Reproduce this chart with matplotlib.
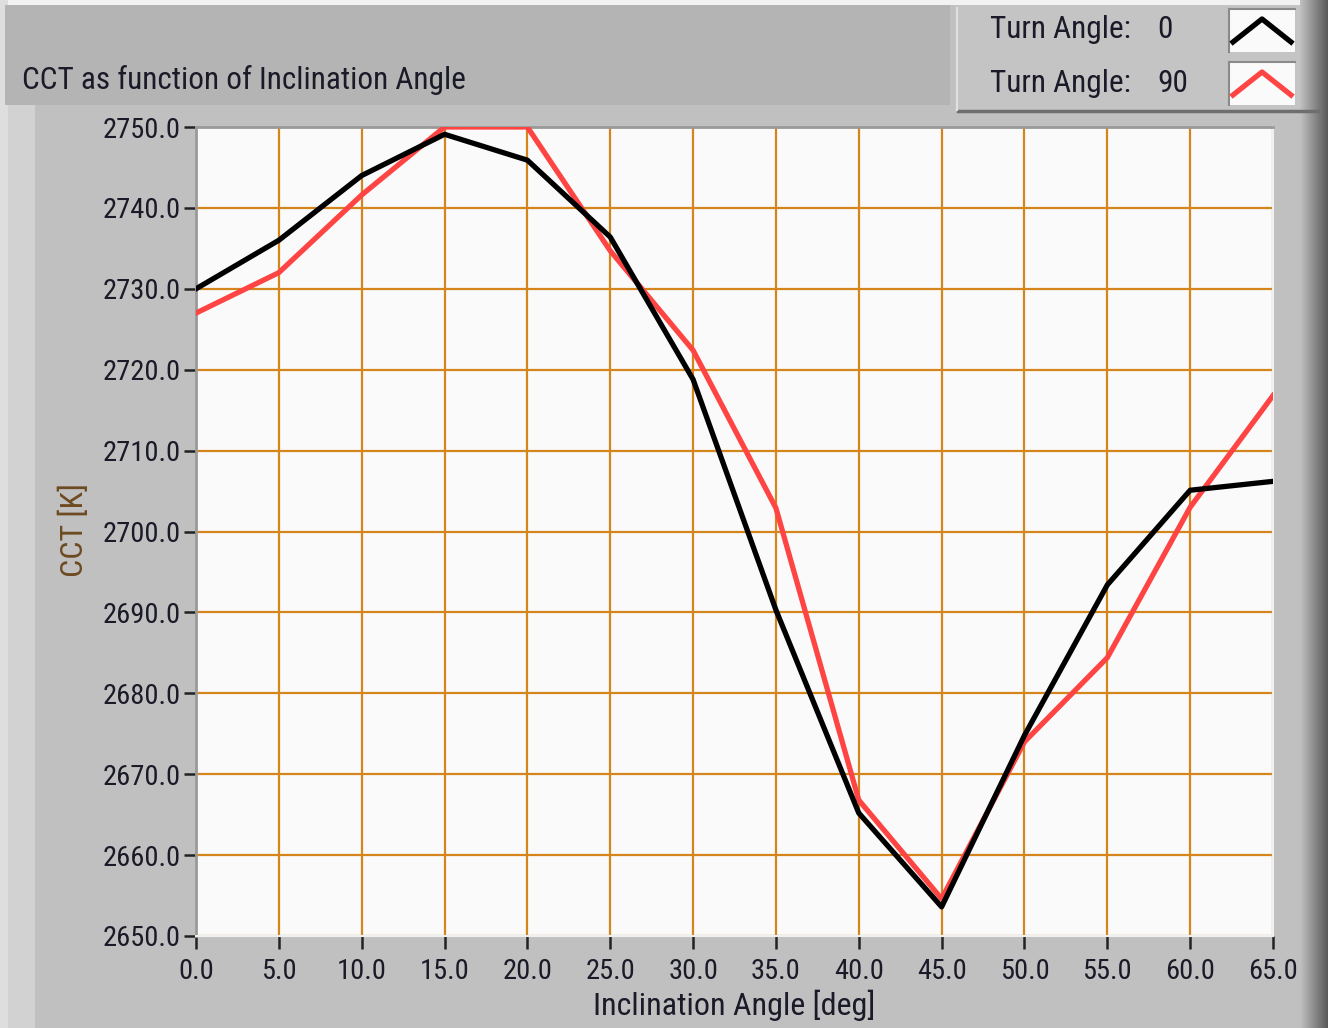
import matplotlib
matplotlib.use("Agg")
import matplotlib.pyplot as plt
from matplotlib.patches import Rectangle
from matplotlib.lines import Line2D
from matplotlib import font_manager
import numpy as np

# ---- data ----
inclination = [0, 5, 10, 15, 20, 25, 30, 35, 40, 45, 50, 55, 60, 65]
cct_turn0 = [2730.0, 2736.0, 2744.0, 2749.1, 2745.9, 2736.4, 2718.8, 2690.3,
             2665.2, 2653.6, 2674.8, 2693.4, 2705.1, 2706.2]
cct_turn90 = [2727.0, 2732.0, 2741.6, 2750.0, 2750.0, 2734.7, 2722.4, 2702.9,
              2666.8, 2654.6, 2674.0, 2684.4, 2703.0, 2716.8]
series_names = ["Turn Angle:  0", "Turn Angle:  90"]
x_ticks = [0, 5, 10, 15, 20, 25, 30, 35, 40, 45, 50, 55, 60, 65]
y_ticks = [2650, 2660, 2670, 2680, 2690, 2700, 2710, 2720, 2730, 2740, 2750]
title = "CCT as function of Inclination Angle"
xlabel = "Inclination Angle [deg]"
ylabel = "CCT [K]"

avail = {f.name for f in font_manager.fontManager.ttflist}
fam = None
for cand in ["Liberation Sans Narrow", "Roboto Condensed", "Open Sans Condensed", "Liberation Sans"]:
    if cand in avail:
        fam = cand
        break
plt.rcParams['font.family'] = [fam, 'DejaVu Sans']

TXT = "#1a1a28"
W, H = 1328, 1028
fig = plt.figure(figsize=(W / 100, H / 100), dpi=100)
fig.patch.set_facecolor("#c0c0c0")

def rect(x0, y0, x1, y1, color, z=0):
    fig.patches.append(Rectangle((x0 / W, 1 - y1 / H), (x1 - x0) / W, (y1 - y0) / H,
                                 transform=fig.transFigure, facecolor=color,
                                 edgecolor="none", zorder=z))

def hline(x0, x1, y, color, lw=1.5, z=1):
    fig.lines.append(Line2D([x0 / W, x1 / W], [1 - y / H, 1 - y / H],
                            transform=fig.transFigure, color=color, lw=lw, zorder=z))

def vline(x, y0, y1, color, lw=1.5, z=1):
    fig.lines.append(Line2D([x / W, x / W], [1 - y0 / H, 1 - y1 / H],
                            transform=fig.transFigure, color=color, lw=lw, zorder=z))

# frame decoration
rect(0, 0, W, 5, "#f2f2f2")
rect(0, 0, 8, H, "#dedede")
rect(8, 105, 35, H, "#d2d2d2")
rect(5, 5, 950, 105, "#b4b4b4")
for i, c in enumerate(np.linspace(0.75, 0.35, 28)):
    rect(1300 + i, 0, 1301 + i, H, (c, c, c))
rect(955, 5, 1300, 112, "#c4c4c4")
hline(958, 1318, 111, "#6e6e6e", lw=2.5)
vline(957, 8, 110, "#e0e0e0", lw=1.5)

# axes
ax_l, ax_r, ax_t, ax_b = 196, 1273, 127, 936
ax = fig.add_axes([ax_l / W, 1 - ax_b / H, (ax_r - ax_l) / W, (ax_b - ax_t) / H])
ax.set_facecolor("#fafafa")
ax.plot(inclination, cct_turn90, color="#ff4444", lw=3.8, zorder=3)
ax.plot(inclination, cct_turn0, color="#000000", lw=3.8, zorder=4)
ax.set_xlim(0, 65)
ax.set_ylim(2650, 2750)
ax.set_xticks(x_ticks)
ax.set_yticks(y_ticks)
ax.set_xticklabels([f"{v:.1f}" for v in x_ticks])
ax.set_yticklabels([f"{v:.1f}" for v in y_ticks])
ax.grid(True, color="#d4861c", lw=1.6, zorder=1)
ax.set_axisbelow(True)
for s in ["right", "bottom"]:
    ax.spines[s].set_color("#f0f0f0")
    ax.spines[s].set_linewidth(1.5)
for s in ["left", "top"]:
    ax.spines[s].set_color("#9a9a9a")
    ax.spines[s].set_linewidth(2)
ax.tick_params(axis="both", direction="out", length=9, width=1.8, color="#222222",
               labelsize=20.5, labelcolor=TXT)
ax.tick_params(axis="y", pad=2)
ax.tick_params(axis="x", pad=7)
ax.set_xlabel(xlabel, fontsize=23, color=TXT, labelpad=3)
ax.set_ylabel(ylabel, fontsize=23, color="#6e4b22")
ax.yaxis.set_label_coords((89 - ax_l) / (ax_r - ax_l), (ax_b - 530) / (ax_b - ax_t))

# title
fig.text(22 / W, 1 - 80 / H, title, fontsize=22.5, color=TXT, va="center", ha="left")

# legend texts and swatches
colors = ["#000000", "#ff4444"]
rows_y = [30, 83]
for name, c, yy in zip(series_names, colors, rows_y):
    lab, val = name.split(":")
    fig.text(990 / W, 1 - yy / H, lab + ":", fontsize=22.5, color=TXT, va="center")
    fig.text(1157 / W, 1 - yy / H, val.strip(), fontsize=22.5, color=TXT, va="center")
    top = yy - 21
    rect(1229, top, 1295, top + 43, "#fafafa", z=1)
    hline(1229, 1295, top, "#8a8a8a", lw=1.5, z=2)
    vline(1229, top, top + 43, "#8a8a8a", lw=1.5, z=2)
    xs = np.array([1233, 1262, 1291])
    ys = np.array([top + 33, top + 10, top + 33])
    fig.lines.append(Line2D(xs / W, 1 - ys / H, transform=fig.transFigure, color=c,
                            lw=3.8, zorder=3))

fig.savefig("out.png", dpi=100, facecolor=fig.get_facecolor())
